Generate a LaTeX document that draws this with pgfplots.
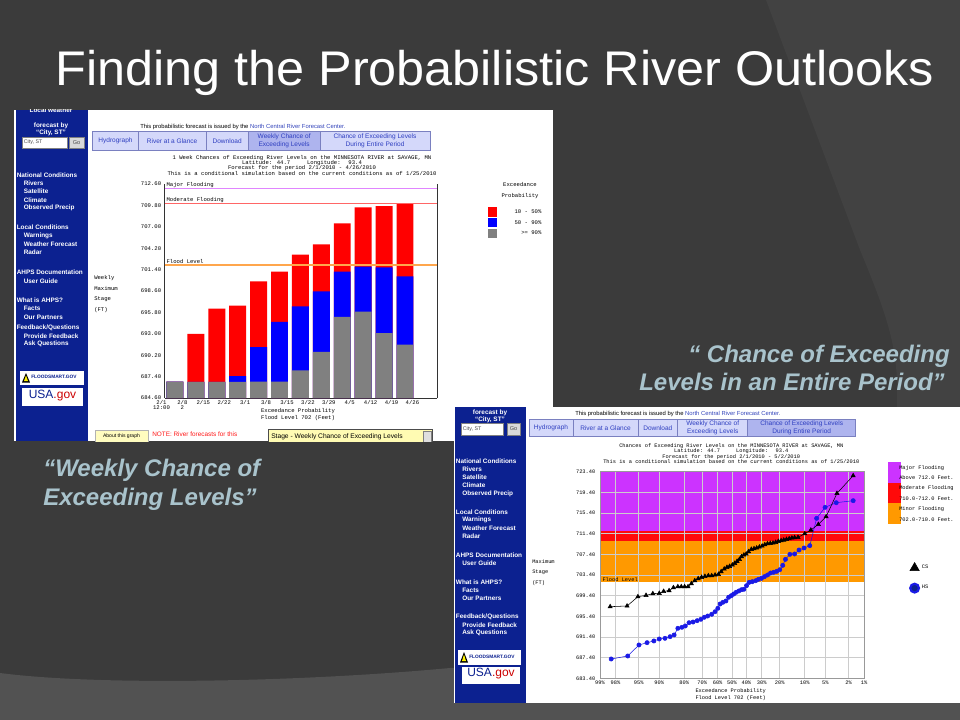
\documentclass[border=0pt]{standalone}
\usepackage{pgfplots}
\pgfplotsset{compat=1.18}
\usepackage{fontspec}
\setmainfont{Liberation Sans}
\newfontfamily\mono{Liberation Mono}
\definecolor{bg}{HTML}{3B3B3B}
\definecolor{bglight}{HTML}{424242}
\definecolor{bgband}{HTML}{525252}
\definecolor{capcol}{HTML}{A9C3CC}
\definecolor{navy}{HTML}{0C2190}
\definecolor{tabfill}{HTML}{D4D8FA}
\definecolor{tabsel}{HTML}{AEB4EE}
\definecolor{tabdraw}{HTML}{7A80C0}
\definecolor{tabtext}{HTML}{2E3EC0}
\definecolor{linkblue}{HTML}{3344BB}
\definecolor{majorc}{HTML}{CC33FF}
\definecolor{modc}{HTML}{FF0A0A}
\definecolor{minorc}{HTML}{FF9900}
\definecolor{barred}{HTML}{FF0000}
\definecolor{barblue}{HTML}{0000FF}
\definecolor{bargray}{HTML}{808080}
\definecolor{hsblue}{HTML}{1A1AE6}
\newcommand\fs[2]{\fontsize{#1}{#2}\selectfont}
% sidebar text
\newcommand\sbh[3]{\node[anchor=west, inner sep=0, text=white, font=\bfseries\fs{4.8}{5}] at (#1,#2) {#3};}
\newcommand\sbi[3]{\node[anchor=west, inner sep=0, text=white, font=\bfseries\fs{4.8}{5}] at (#1,#2) {#3};}
% tab: x1 y1 x2 y2 fill text
\newcommand\tab[6]{\filldraw[fill=#5, draw=tabdraw, line width=0.4pt] (#1,#2) rectangle (#3,#4);
  \node[font=\fs{4.9}{6.3}, text=tabtext, align=center, inner sep=0] at ({(#1+#3)/2},{(#2+#4)/2}) {#6};}
\newcommand\floodsmart[4]{\fill[white] (#1,#2) rectangle (#3,#4);
  \fill[black] ({#1+2},{#4-2.5}) -- ({#1+6},{#2+2}) -- ({#1+10},{#4-2.5}) -- cycle;
  \fill[yellow] ({#1+4},{#4-4}) -- ({#1+6},{#2+4.5}) -- ({#1+8},{#4-4}) -- cycle;
  \node[anchor=west, inner sep=0, text=navy, font=\bfseries\fs{3.6}{4}] at ({#1+11},{(#2+#4)/2-1}) {FLOODSMART.GOV};}
\newcommand\usagov[4]{\fill[white] (#1,#2) rectangle (#3,#4);
  \node[inner sep=0, font=\fs{9}{9}] at ({(#1+#3)/2},{(#2+#4)/2-1.5}) {\textcolor{navy}{USA}\textcolor{red!80!black}{.gov}};}
% shared geometry of the second chart
\pgfplotsset{chartB/.style={
  at={(450pt,-508.725pt)}, anchor=south west,
  scale only axis, width=198pt, height=154.95pt,
  xmin=-2.326, xmax=2.326, ymin=683.4, ymax=723.4}}

\begin{document}
\begin{tikzpicture}[x=0.75pt,y=-0.75pt]
\useasboundingbox (0,0) rectangle (960,720);
\clip (0,0) rectangle (960,720);
% slide background
\fill[bg] (0,0) rectangle (960,720);
\fill[bglight] (766,0) -- (860,250) .. controls (885,310) and (895,340) .. (897,380) -- (897,720) -- (960,720) -- (960,0) -- cycle;
\fill[bgband] (0,673) .. controls (100,686) and (300,682) .. (450,668) -- (960,640) -- (960,720) -- (0,720) -- cycle;
% title
\node[anchor=base west, inner sep=0, text=white, font=\fs{36.5}{40}, xscale=1.035] at (55,85.5) {Finding the Probabilistic River Outlooks};
% captions
\node[anchor=base east, inner sep=0, text=capcol, font=\bfseries\itshape\fs{18}{20}] at (950,362) {“ Chance of Exceeding};
\node[anchor=base east, inner sep=0, text=capcol, font=\bfseries\itshape\fs{18}{20}] at (945,390) {Levels in an Entire Period”};
\node[anchor=base west, inner sep=0, text=capcol, font=\bfseries\itshape\fs{18}{20}] at (43,476) {“Weekly Chance of};
\node[anchor=base west, inner sep=0, text=capcol, font=\bfseries\itshape\fs{18}{20}] at (43,505) {Exceeding Levels”};

% ================= screenshot 1 =================
\begin{scope}
\clip (14,110) rectangle (553,441);
\fill[white] (14,110) rectangle (553,441);
\fill[navy] (16,110) rectangle (88,441);
\node[inner sep=0, text=white, font=\bfseries\fs{4.8}{5}] at (51,110.5) {Local weather};
\node[inner sep=0, text=white, font=\bfseries\fs{4.8}{5}] at (51,126) {forecast by};
\node[inner sep=0, text=white, font=\bfseries\fs{4.8}{5}] at (51,133) {“City, ST”};
\filldraw[fill=white, draw=gray] (22,137) rectangle (67,148);
\node[anchor=west, inner sep=0, text=black!70, font=\fs{4}{4}] at (23.5,142.5) {City, ST};
\filldraw[fill=gray!30, draw=gray] (69,137) rectangle (84,148);
\node[inner sep=0, text=black!70, font=\fs{4.2}{4}] at (76.5,142.5) {Go};
\sbh{16.5}{175}{National Conditions}
\sbi{23.5}{183}{Rivers}
\sbi{23.5}{191.5}{Satellite}
\sbi{23.5}{200}{Climate}
\sbi{23.5}{208}{Observed Precip}
\sbh{16.5}{227}{Local Conditions}
\sbi{23.5}{236}{Warnings}
\sbi{23.5}{244}{Weather Forecast}
\sbi{23.5}{252}{Radar}
\sbh{16.5}{272}{AHPS Documentation}
\sbi{23.5}{281}{User Guide}
\sbh{16.5}{300}{What is AHPS?}
\sbi{23.5}{308}{Facts}
\sbi{23.5}{317}{Our Partners}
\sbh{16.5}{328}{Feedback/Questions}
\sbi{23.5}{336}{Provide Feedback}
\sbi{23.5}{344}{Ask Questions}
\floodsmart{20}{371}{84}{385}
\usagov{22}{388}{83}{406}
% page header
\node[anchor=west, inner sep=0, font=\fs{4.4}{5}] at (140,126.7) {This probabilistic forecast is issued by the \textcolor{linkblue}{North Central River Forecast Center.}};
\tab{92.7}{131.7}{138.3}{150}{tabfill}{Hydrograph}
\tab{138.3}{131.7}{206}{150}{tabfill}{River at a Glance}
\tab{206}{131.7}{248.3}{150}{tabfill}{Download}
\tab{248.3}{131.7}{320}{150}{tabsel}{Weekly Chance of\\Exceeding Levels}
\tab{320}{131.7}{430}{150}{tabfill}{Chance of Exceeding Levels\\During Entire Period}
\node[inner sep=0, font=\mono\fs{4.2}{5}] at (302,157.7) {1 Week Chances of Exceeding River Levels on the MINNESOTA RIVER at SAVAGE, MN};
\node[inner sep=0, font=\mono\fs{4.2}{5}] at (302,163) {Latitude: 44.7\ \ \ \ \ Longitude: \ 93.4};
\node[inner sep=0, font=\mono\fs{4.2}{5}] at (302,168.3) {Forecast for the period 2/1/2010 - 4/26/2010};
\node[inner sep=0, font=\mono\fs{4.2}{5}] at (302,173.7) {This is a conditional simulation based on the current conditions as of 1/25/2010};
\node[anchor=west, inner sep=0, font=\mono\fs{4.2}{5}] at (94,277.7) {Weekly};
\node[anchor=west, inner sep=0, font=\mono\fs{4.2}{5}] at (94,288.3) {Maximum};
\node[anchor=west, inner sep=0, font=\mono\fs{4.2}{5}] at (94,299.3) {Stage};
\node[anchor=west, inner sep=0, font=\mono\fs{4.2}{5}] at (94,310) {(FT)};
\node[inner sep=0, font=\mono\fs{4.2}{5}] at (298,411.5) {Exceedance Probability};
\node[inner sep=0, font=\mono\fs{4.2}{5}] at (298,418.5) {Flood Level 702 (Feet)};
% legend
\node[inner sep=0, font=\mono\fs{4.2}{5}] at (520,185) {Exceedance};
\node[inner sep=0, font=\mono\fs{4.2}{5}] at (520,195.7) {Probability};
\fill[barred] (487.7,207.3) rectangle (496.7,216.7);
\fill[barblue] (487.7,218) rectangle (496.7,227.3);
\fill[bargray] (487.7,228.7) rectangle (496.7,238);
\node[anchor=east, inner sep=0, font=\mono\fs{4.2}{5}] at (541.7,212) {10 - 50\%};
\node[anchor=east, inner sep=0, font=\mono\fs{4.2}{5}] at (541.7,222.7) {50 - 90\%};
\node[anchor=east, inner sep=0, font=\mono\fs{4.2}{5}] at (541.7,233) {>= 90\%};
% bottom controls
\filldraw[fill=yellow!25, draw=gray!60] (95,430) rectangle (148,443);
\node[inner sep=0, font=\fs{3.8}{4}] at (121.5,436) {About this graph};
\node[anchor=west, inner sep=0, text=red!90, font=\fs{4.8}{5}] at (152,434.5) {NOTE: River forecasts for this};
\filldraw[fill=yellow!30, draw=black!70, line width=0.6pt] (268,429.5) rectangle (432,443);
\node[anchor=west, inner sep=0, font=\fs{5}{5}] at (271,436.5) {Stage - Weekly Chance of Exceeding Levels};
\filldraw[fill=gray!25, draw=gray] (423,431.5) rectangle (431,443);
\end{scope}

\begin{axis}[
  at={(123.375pt,-298.5pt)}, anchor=south west,
  scale only axis, width=204.375pt, height=160.5pt,
  clip mode=individual,
  xmin=0, xmax=13.03, ymin=684.6, ymax=712.6,
  axis x line*=bottom, axis y line*=box,
  axis line style={black!80, line width=0.5pt},
  tick style={draw=none},
  ytick={684.6,687.4,690.2,693,695.8,698.6,701.4,704.2,707,709.8,712.6},
  yticklabels={684.60,687.40,690.20,693.00,695.80,698.60,701.40,704.20,707.00,709.80,712.60},
  xtick={0,1,2,3,4,5,6,7,8,9,10,11,12},
  xticklabels={2/1\\12:00,2/8\\2,2/15,2/22,3/1,3/8,3/15,3/22,3/29,4/5,4/12,4/19,4/26},
  ticklabel style={font=\mono\fs{4.2}{3.6}},
  xticklabel style={align=center, xshift=-2.25pt, yshift=6pt},
  yticklabel style={xshift=1pt},
  ybar, bar width=0.81, bar shift=0pt,
]
\addplot[fill=barred, draw=none] coordinates {(0.5,686.75) (1.5,693.0) (2.5,696.3) (3.5,696.7) (4.5,699.85) (5.5,701.15) (6.5,703.35) (7.5,704.7) (8.5,707.45) (9.5,709.55) (10.5,709.7) (11.5,710.05)};
\addplot[fill=barblue, draw=none] coordinates {(0.5,686.75) (1.5,686.7) (2.5,686.7) (3.5,687.45) (4.5,691.25) (5.5,694.55) (6.5,696.6) (7.5,698.55) (8.5,701.15) (9.5,701.8) (10.5,701.7) (11.5,700.5)};
\addplot[fill=bargray, draw=none] coordinates {(0.5,686.75) (1.5,686.7) (2.5,686.7) (3.5,686.7) (4.5,686.75) (5.5,686.75) (6.5,688.2) (7.5,690.65) (8.5,695.2) (9.5,695.9) (10.5,693.1) (11.5,691.6)};
\addplot[sharp plot, draw=majorc!60, line width=0.9pt] coordinates {(0,712) (13.03,712)};
\addplot[sharp plot, draw=red!60, line width=0.9pt] coordinates {(0,710) (13.03,710)};
\addplot[sharp plot, draw=orange!70, line width=0.9pt] coordinates {(0,702) (13.03,702)};
\node[anchor=south west, inner sep=0.6pt, font=\mono\fs{4.2}{5}] at (axis cs:0.05,712.0) {Major Flooding};
\node[anchor=south west, inner sep=0.6pt, font=\mono\fs{4.2}{5}] at (axis cs:0.05,710.0) {Moderate Flooding};
\node[anchor=south west, inner sep=0.6pt, font=\mono\fs{4.2}{5}] at (axis cs:0.05,702.0) {Flood Level};
\end{axis}

% ================= screenshot 2 =================
\fill[white] (454,407) rectangle (960,703);
\fill[navy] (455,407) rectangle (526,703);
\node[inner sep=0, text=white, font=\bfseries\fs{4.8}{5}] at (490,413) {forecast by};
\node[inner sep=0, text=white, font=\bfseries\fs{4.8}{5}] at (490,420) {“City, ST”};
\filldraw[fill=white, draw=gray] (461,423) rectangle (503,435);
\node[anchor=west, inner sep=0, text=black!70, font=\fs{4}{4}] at (462.5,429) {City, ST};
\filldraw[fill=gray!30, draw=gray] (507,423) rectangle (520,435);
\node[inner sep=0, text=black!70, font=\fs{4.2}{4}] at (513.5,429) {Go};
\sbh{455.7}{461}{National Conditions}
\sbi{462}{469.3}{Rivers}
\sbi{462}{477.3}{Satellite}
\sbi{462}{485.7}{Climate}
\sbi{462}{493.7}{Observed Precip}
\sbh{455.7}{512.3}{Local Conditions}
\sbi{462}{520.3}{Warnings}
\sbi{462}{528.3}{Weather Forecast}
\sbi{462}{536.7}{Radar}
\sbh{455.7}{555}{AHPS Documentation}
\sbi{462}{563.3}{User Guide}
\sbh{455.7}{582}{What is AHPS?}
\sbi{462}{590}{Facts}
\sbi{462}{598.3}{Our Partners}
\sbh{455.7}{616.7}{Feedback/Questions}
\sbi{462}{625}{Provide Feedback}
\sbi{462}{633}{Ask Questions}
\floodsmart{458}{650}{521}{665}
\usagov{462}{667}{520}{684}
\node[anchor=west, inner sep=0, font=\fs{4.4}{5}] at (575,414) {This probabilistic forecast is issued by the \textcolor{linkblue}{North Central River Forecast Center.}};
\tab{529}{419}{573}{436.7}{tabfill}{Hydrograph}
\tab{573}{419}{638}{436.7}{tabfill}{River at a Glance}
\tab{638}{419}{677.7}{436.7}{tabfill}{Download}
\tab{677.7}{419}{747.7}{436.7}{tabfill}{Weekly Chance of\\Exceeding Levels}
\tab{747.7}{419}{855.7}{436.7}{tabsel}{Chance of Exceeding Levels\\During Entire Period}
\node[inner sep=0, font=\mono\fs{4.0}{5}] at (731.3,446) {Chances of Exceeding River Levels on the MINNESOTA RIVER at SAVAGE, MN};
\node[inner sep=0, font=\mono\fs{4.0}{5}] at (731.3,451.5) {Latitude: 44.7\ \ \ \ \ Longitude: \ 93.4};
\node[inner sep=0, font=\mono\fs{4.0}{5}] at (731.3,456.8) {Forecast for the period 2/1/2010 - 5/2/2010};
\node[inner sep=0, font=\mono\fs{4.0}{5}] at (731.3,461.7) {This is a conditional simulation based on the current conditions as of 1/25/2010};
\node[anchor=west, inner sep=0, font=\mono\fs{4.0}{5}] at (532,562) {Maximum};
\node[anchor=west, inner sep=0, font=\mono\fs{4.0}{5}] at (532,572.3) {Stage};
\node[anchor=west, inner sep=0, font=\mono\fs{4.0}{5}] at (532,582.7) {(FT)};
\node[inner sep=0, font=\mono\fs{4.0}{5}] at (730.7,691) {Exceedance Probability};
\node[inner sep=0, font=\mono\fs{4.0}{5}] at (730.7,697.7) {Flood Level 702 (Feet)};
% band legend
\fill[majorc] (887.7,461.7) rectangle (901,482.7);
\fill[modc] (887.7,482.7) rectangle (901,503.3);
\fill[minorc] (887.7,503.3) rectangle (901,524);
\node[anchor=west, inner sep=0, font=\mono\fs{4.0}{5}] at (899,467.7) {Major Flooding};
\node[anchor=west, inner sep=0, font=\mono\fs{4.0}{5}] at (899,478) {Above 712.0 Feet.};
\node[anchor=west, inner sep=0, font=\mono\fs{4.0}{5}] at (899,488.3) {Moderate Flooding};
\node[anchor=west, inner sep=0, font=\mono\fs{4.0}{5}] at (899,498.7) {710.0-712.0 Feet.};
\node[anchor=west, inner sep=0, font=\mono\fs{4.0}{5}] at (899,509) {Minor Flooding};
\node[anchor=west, inner sep=0, font=\mono\fs{4.0}{5}] at (899,519.3) {702.0-710.0 Feet.};

% flood bands, under the grid
\begin{axis}[chartB, hide axis]
\addplot[fill=majorc, draw=none] coordinates {(-2.326,712) (2.326,712) (2.326,723.4) (-2.326,723.4)};
\addplot[fill=modc, draw=none] coordinates {(-2.326,710) (2.326,710) (2.326,712) (-2.326,712)};
\addplot[fill=minorc, draw=none] coordinates {(-2.326,702) (2.326,702) (2.326,710) (-2.326,710)};
\end{axis}

\begin{axis}[chartB,
  clip mode=individual,
  grid=major, major grid style={draw=gray!40, line width=0.5pt},
  axis line style={gray!80, line width=0.5pt},
  tick style={draw=none},
  ytick={683.4,687.4,691.4,695.4,699.4,703.4,707.4,711.4,715.4,719.4,723.4},
  yticklabels={683.40,687.40,691.40,695.40,699.40,703.40,707.40,711.40,715.40,719.40,723.40},
  xtick={-2.326,-2.054,-1.645,-1.2816,-0.8416,-0.5244,-0.2533,0,0.2533,0.5244,0.8416,1.2816,1.645,2.054,2.326},
  xticklabels={99\%,98\%,95\%,90\%,80\%,70\%,60\%,50\%,40\%,30\%,20\%,10\%,5\%,2\%,1\%},
  ticklabel style={font=\mono\fs{4.0}{4}},
  xticklabel style={yshift=1.5pt},
  legend style={at={(axis description cs:1.158,0.575)}, anchor=north west, draw=none, fill=none,
    font=\mono\fs{4.0}{5}, row sep=7pt},
  legend cell align=left,
]
\node[anchor=south west, inner sep=0.6pt, font=\mono\fs{4.0}{5}] at (axis cs:-2.30,702.0) {Flood Level};
\addplot[forget plot, hsblue, line width=0.4pt, mark=*, mark size=1.6pt, mark options={fill=hsblue, draw=hsblue}] coordinates {
(-2.129,687.14) (-1.837,687.72) (-1.640,689.85) (-1.497,690.3) (-1.377,690.63) (-1.282,691.01) (-1.181,691.14) (-1.091,691.46) (-1.020,691.79) (-0.954,693.08) (-0.883,693.27) (-0.823,693.53) (-0.757,694.17) (-0.686,694.3) (-0.614,694.56) (-0.549,694.82) (-0.489,695.21) (-0.429,695.46) (-0.358,695.79) (-0.298,696.3) (-0.250,696.95) (-0.209,697.79) (-0.161,698.11) (-0.107,698.37) (-0.060,699.08) (-0.012,699.4) (0.030,699.72) (0.072,700.05) (0.119,700.3) (0.167,700.56) (0.209,700.63) (0.256,701.34) (0.304,701.98) (0.358,702.11) (0.417,702.3) (0.465,702.56) (0.519,702.75) (0.572,703.08) (0.626,703.4) (0.680,703.79) (0.733,703.92) (0.787,704.11) (0.841,704.43) (0.894,705.27) (0.942,706.43) (1.020,707.4) (1.103,707.47) (1.181,708.24) (1.270,708.63) (1.371,709.08) (1.491,714.37) (1.640,716.5) (1.837,717.4) (2.135,717.79)};
\addplot[forget plot, black, line width=0.4pt, mark=triangle*, mark size=1.8pt, mark options={fill=black}] coordinates {
(-2.147,697.27) (-1.849,697.4) (-1.658,699.2) (-1.515,699.46) (-1.395,699.8) (-1.282,699.85) (-1.205,700.24) (-1.109,700.37) (-1.032,700.95) (-0.954,701.14) (-0.894,701.14) (-0.835,701.14) (-0.775,701.14) (-0.716,701.72) (-0.656,702.3) (-0.596,702.7) (-0.537,702.95) (-0.477,703.14) (-0.417,703.27) (-0.358,703.27) (-0.298,703.4) (-0.239,703.53) (-0.191,704.05) (-0.137,704.56) (-0.089,704.88) (-0.042,705.08) (0.006,705.34) (0.048,705.66) (0.089,706.05) (0.131,706.43) (0.167,706.95) (0.209,707.27) (0.250,707.47) (0.292,707.92) (0.340,708.37) (0.388,708.5) (0.435,708.63) (0.483,708.82) (0.531,709.01) (0.578,709.27) (0.626,709.46) (0.674,709.53) (0.722,709.59) (0.769,709.72) (0.817,709.92) (0.865,710.05) (0.912,710.17) (0.960,710.3) (1.008,710.43) (1.055,710.56) (1.103,710.63) (1.163,710.69) (1.282,711.4) (1.389,712.1) (1.521,713.2) (1.658,714.69) (1.849,719.2) (2.135,722.63)};
\addlegendimage{only marks, mark=triangle*, mark size=4pt, black}
\addlegendentry{CS}
\addlegendimage{only marks, mark=*, mark size=3.3pt, mark options={fill=navy, draw=hsblue, line width=1.6pt}}
\addlegendentry{HS}
\end{axis}
\end{tikzpicture}
\end{document}
